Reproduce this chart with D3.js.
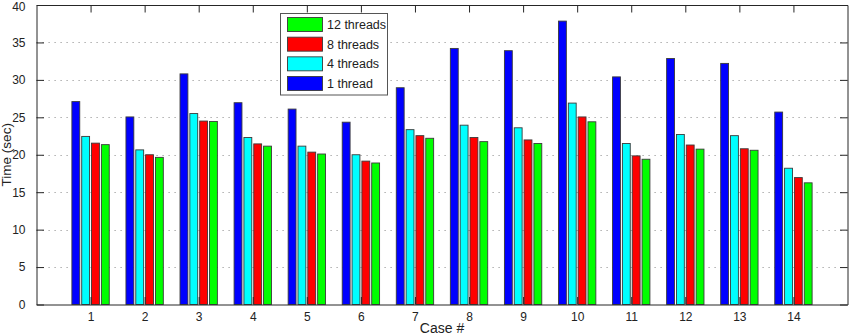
<!DOCTYPE html>
<html>
<head>
<meta charset="utf-8">
<script src="https://cdn.jsdelivr.net/npm/d3@7"></script>
<style>
  html, body { margin: 0; padding: 0; background: #fff; }
  svg { display: block; font-family: "Liberation Sans", Arial, Helvetica, sans-serif; }
</style>
</head>
<body>
<svg id="chart" width="850" height="336"></svg>
<script>
const cases = [1, 2, 3, 4, 5, 6, 7, 8, 9, 10, 11, 12, 13, 14];
const seriesNames = ["1 thread", "4 threads", "8 threads", "12 threads"];
const seriesColors = ["#0000ff", "#00ffff", "#ff0000", "#00ff00"];
const thread1  = [27.1, 25.05, 30.8, 26.95, 26.1, 24.35, 28.95, 34.2, 33.9, 37.85, 30.4, 32.85, 32.2, 25.7];
const thread4  = [22.45, 20.65, 25.5, 22.3, 21.15, 20.0, 23.35, 23.95, 23.6, 26.9, 21.5, 22.7, 22.55, 18.2];
const thread8  = [21.55, 20.0, 24.5, 21.45, 20.35, 19.15, 22.55, 22.3, 21.98, 25.05, 19.85, 21.3, 20.8, 16.95];
const thread12 = [21.35, 19.65, 24.45, 21.15, 20.1, 18.9, 22.2, 21.75, 21.5, 24.4, 19.4, 20.75, 20.6, 16.25];
const yTicks = [0, 5, 10, 15, 20, 25, 30, 35, 40];
const legendOrder = ["12 threads", "8 threads", "4 threads", "1 thread"];

const seriesValues = [thread1, thread4, thread8, thread12];

const svg = d3.select("#chart");
const L = 36.5, R = 847.5, T = 5, B = 304.5;

const x = d3.scaleLinear().domain([0, 15]).range([L, R]);
const y = d3.scaleLinear().domain([0, 40]).range([B, T]);
const unit = x(1) - x(0);
const groupW = unit * Math.min(0.8, 4 / (4 + 1.5));
const inner = d3.scaleBand().domain(seriesNames).range([-groupW / 2, groupW / 2])
  .paddingInner(0.2).paddingOuter(0.1);
const color = d3.scaleOrdinal().domain(seriesNames).range(seriesColors);

svg.append("rect").attr("x", L).attr("y", T).attr("width", R - L).attr("height", B - T).attr("fill", "#fff");

// grid
svg.append("g").selectAll("line").data(yTicks.filter(t => t > 0 && t < 40)).join("line")
  .attr("x1", L).attr("x2", R)
  .attr("y1", d => Math.round(y(d)) + 0.5).attr("y2", d => Math.round(y(d)) + 0.5)
  .attr("stroke", "#9a9a9a").attr("stroke-width", 1).attr("stroke-dasharray", "1.2,4.8");

// bars
const barData = [];
seriesNames.forEach((s, si) => {
  cases.forEach((c, ci) => barData.push({ s, c, v: seriesValues[si][ci] }));
});
svg.append("g").selectAll("rect").data(barData).join("rect")
  .attr("x", d => x(d.c) + inner(d.s))
  .attr("width", inner.bandwidth())
  .attr("y", d => y(d.v))
  .attr("height", d => y(0) - y(d.v))
  .attr("fill", d => color(d.s))
  .attr("stroke", "#3a3a3a").attr("stroke-width", 0.9);

// axes (inward ticks)
const tickLen = 7.5;
const axisColor = "#262626";
const gBottom = svg.append("g").attr("transform", `translate(0,${B})`)
  .call(d3.axisBottom(x).tickValues(cases).tickSizeInner(-tickLen).tickSizeOuter(0).tickPadding(14));
const gTop = svg.append("g").attr("transform", `translate(0,${T})`)
  .call(d3.axisTop(x).tickValues(cases).tickSizeInner(-tickLen).tickSizeOuter(0).tickFormat(""));
const gLeft = svg.append("g").attr("transform", `translate(${L},0)`)
  .call(d3.axisLeft(y).tickValues(yTicks).tickSizeInner(-tickLen).tickSizeOuter(0).tickPadding(11));
const gRight = svg.append("g").attr("transform", `translate(${R},0)`)
  .call(d3.axisRight(y).tickValues(yTicks).tickSizeInner(-tickLen).tickSizeOuter(0).tickFormat(""));

[gBottom, gTop, gLeft, gRight].forEach(g => {
  g.select(".domain").attr("stroke", axisColor);
  g.selectAll(".tick line").attr("stroke", axisColor);
  g.selectAll(".tick text").attr("fill", "#222").attr("font-size", 12)
    .attr("font-family", "'Liberation Sans', Arial, sans-serif");
});
gBottom.selectAll(".tick text").attr("dy", "0.71em").attr("y", 8);
gLeft.selectAll(".tick text").filter(d => d === 40).attr("dy", "0.45em");

// axis labels
svg.append("text").attr("x", (L + R) / 2).attr("y", 333)
  .attr("text-anchor", "middle").attr("font-size", 14).attr("fill", "#222").text("Case #");
svg.append("text").attr("transform", `translate(11,${(T + B) / 2}) rotate(-90)`)
  .attr("text-anchor", "middle").attr("font-size", 13.5).attr("fill", "#222").text("Time (sec)");

// legend
const lg = svg.append("g");
lg.append("rect").attr("x", 280.5).attr("y", 13.5).attr("width", 107).attr("height", 81.5)
  .attr("fill", "#fff").attr("stroke", "#555").attr("stroke-width", 1);
const rowY = d3.scalePoint().domain(legendOrder).range([24.5, 83.5]);
legendOrder.forEach(name => {
  const cy = rowY(name);
  lg.append("rect").attr("x", 287.5).attr("y", cy - 7).attr("width", 35).attr("height", 14)
    .attr("fill", color(name)).attr("stroke", "#3a3a3a").attr("stroke-width", 0.9);
  lg.append("text").attr("x", 327).attr("y", cy).attr("dy", "0.36em")
    .attr("font-size", 12.5).attr("fill", "#222").text(name);
});
</script>
</body>
</html>
